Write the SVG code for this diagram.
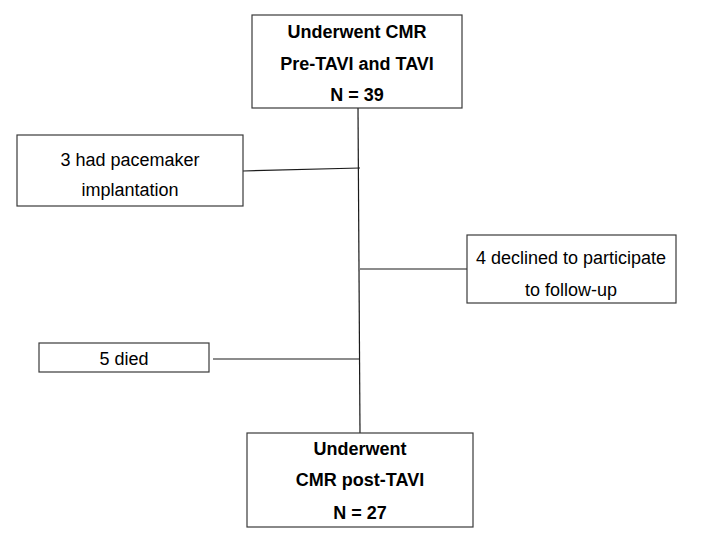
<svg xmlns="http://www.w3.org/2000/svg" width="720" height="540" viewBox="0 0 720 540">
<style>
.box{fill:#fff;stroke:#3a3a3a;stroke-width:1.2}
.t{font-family:"Liberation Sans",Arial,sans-serif;font-size:18px;fill:#000;text-anchor:middle}
.b{font-weight:bold}
.c{stroke:#1a1a1a;stroke-width:1.2;fill:none}
</style>
<rect width="720" height="540" fill="#fff"/>
<g id="connectors">
<line class="c" x1="358" y1="108" x2="360" y2="433"/>
<line class="c" x1="243" y1="171" x2="360" y2="168"/>
<line class="c" x1="360" y1="269" x2="467" y2="269"/>
<line class="c" x1="213" y1="359" x2="359" y2="359"/>
</g>
<g id="top">
<rect class="box" x="252" y="15" width="210" height="93"/>
<text class="t b" x="357" y="38">Underwent CMR</text>
<text class="t b" x="357" y="70">Pre-TAVI and TAVI</text>
<text class="t b" x="357" y="101">N = 39</text>
</g>
<g id="pacemaker">
<rect class="box" x="17" y="135" width="226" height="71"/>
<text class="t" x="130" y="166">3 had pacemaker</text>
<text class="t" x="130" y="196">implantation</text>
</g>
<g id="declined">
<rect class="box" x="467" y="235" width="209" height="68"/>
<text class="t" x="571" y="264">4 declined to participate</text>
<text class="t" x="571" y="296">to follow-up</text>
</g>
<g id="died">
<rect class="box" x="39" y="343" width="170" height="29"/>
<text class="t" x="124" y="365">5 died</text>
</g>
<g id="bottom">
<rect class="box" x="247" y="433" width="226" height="94"/>
<text class="t b" x="360" y="455">Underwent</text>
<text class="t b" x="360" y="486">CMR post-TAVI</text>
<text class="t b" x="360" y="519">N = 27</text>
</g>
</svg>
